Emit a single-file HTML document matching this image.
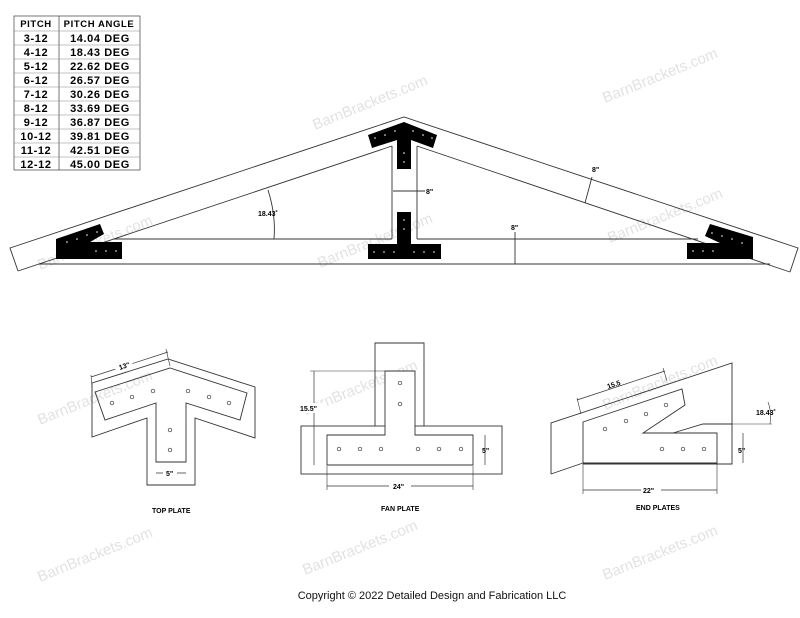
<!DOCTYPE html>
<html><head><style>
body{margin:0;background:#fff;}
svg{display:block;font-family:"Liberation Sans",sans-serif;}
.l{fill:none;stroke:#333;stroke-width:0.9}
.t{font-family:"Liberation Sans",sans-serif;font-weight:bold;font-size:11px;fill:#000;letter-spacing:0.6px}
.s{font-size:7px;font-weight:bold;fill:#000;font-family:"Liberation Sans",sans-serif}
.w{font-size:15px;fill:#e2e2e2;font-family:"Liberation Sans",sans-serif}
.h{fill:#fff;stroke:#333;stroke-width:0.7}
.d{fill:#fff}
</style></head><body>
<svg width="800" height="618" viewBox="0 0 800 618">
<g class="w">
<text transform="translate(315,130) rotate(-22)">BarnBrackets.com</text>
<text transform="translate(605,103) rotate(-22)">BarnBrackets.com</text>
<text transform="translate(320,268) rotate(-22)">BarnBrackets.com</text>
<text transform="translate(40,270) rotate(-22)">BarnBrackets.com</text>
<text transform="translate(610,243) rotate(-22)">BarnBrackets.com</text>
<text transform="translate(40,425) rotate(-22)">BarnBrackets.com</text>
<text transform="translate(305,415) rotate(-22)">BarnBrackets.com</text>
<text transform="translate(605,410) rotate(-22)">BarnBrackets.com</text>
<text transform="translate(40,582) rotate(-22)">BarnBrackets.com</text>
<text transform="translate(305,575) rotate(-22)">BarnBrackets.com</text>
<text transform="translate(605,580) rotate(-22)">BarnBrackets.com</text>
</g>
<g>
<rect x="14" y="16" width="126" height="154" fill="none" stroke="#555" stroke-width="0.8"/>
<line x1="59" y1="16" x2="59" y2="170" stroke="#555" stroke-width="0.8"/>
<g stroke="#888" stroke-width="0.6">
<line x1="14" y1="31" x2="140" y2="31"/><line x1="14" y1="45" x2="140" y2="45"/><line x1="14" y1="59" x2="140" y2="59"/><line x1="14" y1="73" x2="140" y2="73"/><line x1="14" y1="87" x2="140" y2="87"/><line x1="14" y1="101" x2="140" y2="101"/><line x1="14" y1="115" x2="140" y2="115"/><line x1="14" y1="129" x2="140" y2="129"/><line x1="14" y1="143" x2="140" y2="143"/><line x1="14" y1="157" x2="140" y2="157"/>
</g>
<g class="t" font-size="10">
<text x="36" y="27" text-anchor="middle" font-size="9.5">PITCH</text><text x="99" y="27" text-anchor="middle" font-size="9.5">PITCH ANGLE</text>
<text x="36" y="42" text-anchor="middle">3-12</text><text x="100" y="42" text-anchor="middle">14.04 DEG</text>
<text x="36" y="56" text-anchor="middle">4-12</text><text x="100" y="56" text-anchor="middle">18.43 DEG</text>
<text x="36" y="70" text-anchor="middle">5-12</text><text x="100" y="70" text-anchor="middle">22.62 DEG</text>
<text x="36" y="84" text-anchor="middle">6-12</text><text x="100" y="84" text-anchor="middle">26.57 DEG</text>
<text x="36" y="98" text-anchor="middle">7-12</text><text x="100" y="98" text-anchor="middle">30.26 DEG</text>
<text x="36" y="112" text-anchor="middle">8-12</text><text x="100" y="112" text-anchor="middle">33.69 DEG</text>
<text x="36" y="126" text-anchor="middle">9-12</text><text x="100" y="126" text-anchor="middle">36.87 DEG</text>
<text x="36" y="140" text-anchor="middle">10-12</text><text x="100" y="140" text-anchor="middle">39.81 DEG</text>
<text x="36" y="154" text-anchor="middle">11-12</text><text x="100" y="154" text-anchor="middle">42.51 DEG</text>
<text x="36" y="168" text-anchor="middle">12-12</text><text x="100" y="168" text-anchor="middle">45.00 DEG</text>
</g>
</g>
<g class="l">
<polyline points="18,271 10,248 404,117 798,248 790,272"/>
<line x1="18" y1="271" x2="392" y2="146"/>
<line x1="417" y1="146" x2="790" y2="272"/>
<line x1="392" y1="146" x2="392" y2="239"/>
<line x1="417" y1="146" x2="417" y2="239"/>
<line x1="114" y1="239" x2="392" y2="239"/>
<line x1="417" y1="239" x2="698" y2="239"/>
<line x1="39" y1="264" x2="770" y2="264"/>
</g>
<g fill="#000">
<polygon points="56,239 100,224 104,234 90,242 122,242 122,259 56,259"/>
<polygon points="753,237 710,224 705,236 720,243 687,243 687,259 753,259"/>
<polygon points="368,135 404,122 437,135 433,148 411,140 411,169 397,169 397,140 372,148"/>
<polygon points="397,212 411,212 411,244 441,244 441,259 368,259 368,244 397,244"/>
</g>
<g class="d">
<circle cx="67" cy="242" r="0.8"/><circle cx="77" cy="239" r="0.8"/><circle cx="87" cy="235" r="0.8"/><circle cx="97" cy="232" r="0.8"/>
<circle cx="96" cy="251" r="0.8"/><circle cx="106" cy="251" r="0.8"/><circle cx="116" cy="251" r="0.8"/>
<circle cx="712" cy="233" r="0.8"/><circle cx="722" cy="236" r="0.8"/><circle cx="732" cy="239" r="0.8"/><circle cx="742" cy="243" r="0.8"/>
<circle cx="693" cy="251" r="0.8"/><circle cx="703" cy="251" r="0.8"/><circle cx="713" cy="251" r="0.8"/>
<circle cx="375" cy="138" r="0.8"/><circle cx="385" cy="135" r="0.8"/><circle cx="395" cy="131" r="0.8"/><circle cx="413" cy="131" r="0.8"/><circle cx="423" cy="135" r="0.8"/><circle cx="432" cy="138" r="0.8"/>
<circle cx="404" cy="153" r="0.8"/><circle cx="404" cy="162" r="0.8"/>
<circle cx="404" cy="220" r="0.8"/><circle cx="404" cy="229" r="0.8"/>
<circle cx="374" cy="252" r="0.8"/><circle cx="384" cy="252" r="0.8"/><circle cx="394" cy="252" r="0.8"/><circle cx="414" cy="252" r="0.8"/><circle cx="424" cy="252" r="0.8"/><circle cx="434" cy="252" r="0.8"/>
</g>
<g class="l" stroke-width="0.7">
<path d="M268,190 Q276,215 274,239"/>
<line x1="393" y1="191" x2="425" y2="191"/>
<line x1="515" y1="232" x2="515" y2="264"/>
<line x1="585" y1="203" x2="592" y2="177"/>
</g>
<text class="s" x="258" y="216">18.43˚</text>
<text class="s" x="426" y="194">8"</text>
<text class="s" x="511" y="230">8"</text>
<text class="s" x="592" y="172">8"</text>
<g class="l">
<polygon points="92,383 168,359 255,387 255,438 195,418 195,485 147,485 147,418 92,437"/>
<polygon points="95,392 170,368 247,393 240,420 186,403 186,462 156,462 156,403 105,420"/>
<line x1="91" y1="377" x2="168" y2="352" stroke-width="0.7"/>
<line x1="91" y1="375" x2="92" y2="388" stroke-width="0.6"/><line x1="166" y1="349" x2="170" y2="366" stroke-width="0.6"/>
<line x1="156" y1="473" x2="186" y2="473" stroke-width="0.7"/>
</g>
<g class="h">
<circle cx="112" cy="403" r="1.8"/><circle cx="132" cy="397" r="1.8"/><circle cx="153" cy="391" r="1.8"/><circle cx="188" cy="391" r="1.8"/><circle cx="209" cy="397" r="1.8"/><circle cx="229" cy="403" r="1.8"/><circle cx="170" cy="430" r="1.8"/><circle cx="170" cy="450" r="1.8"/>
</g>
<rect x="163" y="469" width="14" height="8" fill="#fff"/>
<text class="s" x="166" y="476">5"</text>
<rect x="114" y="359" width="18" height="9" fill="#fff" transform="rotate(-18 122 364)"/>
<text class="s" x="118" y="369" transform="rotate(-18 122 364)" font-size="9">13"</text>
<text class="s" x="152" y="513">TOP PLATE</text>
<g class="l">
<polyline points="375,426 375,343 424,343 424,426"/>
<rect x="301" y="426" width="201" height="48"/>
<polygon points="385,371 415,371 415,435 473,435 473,465 327,465 327,435 385,435" fill="#fff"/>
<line x1="314" y1="371" x2="314" y2="465" stroke-width="0.7"/><line x1="310" y1="371" x2="385" y2="371" stroke-width="0.6"/>
<line x1="485" y1="435" x2="485" y2="465" stroke-width="0.7"/>
<line x1="327" y1="486" x2="473" y2="486" stroke-width="0.7"/>
<line x1="327" y1="466" x2="327" y2="490" stroke-width="0.6"/><line x1="473" y1="466" x2="473" y2="490" stroke-width="0.6"/>
</g>
<g class="h">
<circle cx="339" cy="449" r="1.8"/><circle cx="360" cy="449" r="1.8"/><circle cx="381" cy="449" r="1.8"/><circle cx="418" cy="449" r="1.8"/><circle cx="439" cy="449" r="1.8"/><circle cx="461" cy="449" r="1.8"/><circle cx="400" cy="383" r="1.8"/><circle cx="400" cy="404" r="1.8"/>
</g>
<rect x="298" y="403" width="26" height="10" fill="#fff"/>
<text class="s" x="300" y="411" font-size="9">15.5"</text>
<text class="s" x="482" y="453" font-size="9">5"</text>
<rect x="389" y="481" width="22" height="10" fill="#fff"/>
<text class="s" x="393" y="489" font-size="9">24"</text>
<text class="s" x="381" y="511">FAN PLATE</text>
<g class="l">
<polyline points="551,474 551,423 732,363 732,424"/>
<line x1="551" y1="474" x2="583" y2="463"/>
<polyline points="673,433 703,424 732,424 732,464 583,464"/>
<polygon points="583,422 682,389 685,405 643,433 717,433 717,463 583,463"/>
<line x1="703" y1="424" x2="772" y2="424" stroke-width="0.6"/>
<line x1="577" y1="400" x2="665" y2="371" stroke-width="0.7"/>
<line x1="577" y1="398" x2="581" y2="414" stroke-width="0.6"/><line x1="663" y1="368" x2="667" y2="381" stroke-width="0.6"/>
<line x1="743" y1="433" x2="743" y2="463" stroke-width="0.7"/>
<line x1="583" y1="490" x2="717" y2="490" stroke-width="0.7"/>
<line x1="583" y1="464" x2="583" y2="494" stroke-width="0.6"/><line x1="717" y1="464" x2="717" y2="494" stroke-width="0.6"/>
<path d="M768,402 Q772,412 770,424" stroke-width="0.6"/>
</g>
<g class="h">
<circle cx="605" cy="429" r="1.8"/><circle cx="626" cy="421" r="1.8"/><circle cx="646" cy="414" r="1.8"/><circle cx="666" cy="405" r="1.8"/><circle cx="662" cy="449" r="1.8"/><circle cx="683" cy="449" r="1.8"/><circle cx="704" cy="449" r="1.8"/>
</g>
<rect x="604" y="376" width="24" height="10" fill="#fff" transform="rotate(-18 616 381)"/>
<text class="s" x="606" y="386" font-size="9" transform="rotate(-18 616 381)">15.5</text>
<text class="s" x="756" y="415" font-size="9">18.43˚</text>
<text class="s" x="738" y="453" font-size="9">5"</text>
<rect x="641" y="485" width="20" height="10" fill="#fff"/>
<text class="s" x="643" y="493" font-size="9">22"</text>
<text class="s" x="636" y="510">END PLATES</text>
<text x="432" y="599" text-anchor="middle" font-size="11" fill="#111">Copyright © 2022 Detailed Design and Fabrication LLC</text>
</svg>
</body></html>
